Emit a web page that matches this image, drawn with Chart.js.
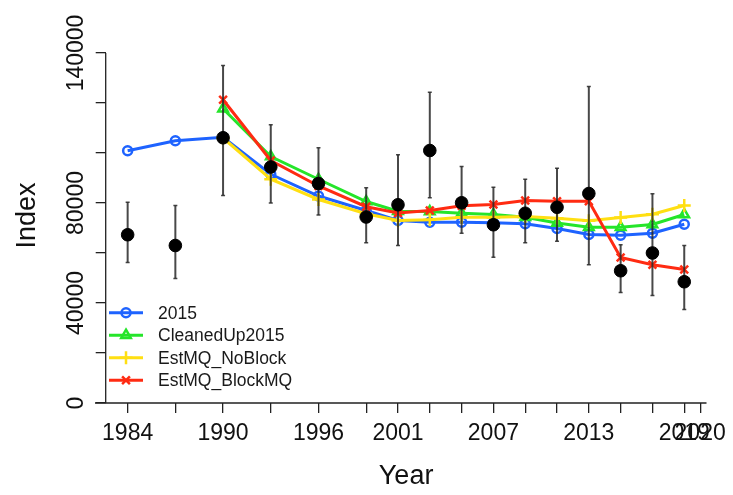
<!DOCTYPE html>
<html>
<head>
<meta charset="utf-8">
<script src="https://cdn.jsdelivr.net/npm/chart.js@4/dist/chart.umd.min.js"></script>
<style>
  html, body { margin: 0; padding: 0; background: #ffffff; }
  #wrap { width: 733px; height: 495px; }
</style>
</head>
<body>
<div id="wrap"><canvas id="c" width="733" height="495"></canvas></div>
<script>
// Survey years
const years = [1984, 1987, 1990, 1993, 1996, 1999, 2001, 2003, 2005, 2007, 2009, 2011, 2013, 2015, 2017, 2019];

// Observed index with its interval
const obsIndex = [67300, 63000, 106100, 94400, 87800, 74400, 79300, 101000, 80100, 71300, 75900, 78300, 83800, 52900, 60000, 48500];
const obsLower = [56200, 49800, 83000, 80000, 75200, 64100, 63000, 82100, 67900, 58300, 64100, 64700, 55300, 44200, 43000, 37400];
const obsUpper = [80300, 79000, 135000, 111300, 102100, 86100, 99300, 124300, 94600, 86300, 89500, 93900, 126600, 63300, 83700, 63000];

// Model fits
const run2015 = [100900, 104900, 106300, 91500, 82800, 77000, 73000, 72300, 72300, 72100, 71700, 69800, 67400, 67100, 67900, 71500];
const cleanedUp2015 = [null, null, 117700, 98600, 89500, 80600, 76700, 76600, 75900, 75400, 74300, 72000, 70300, 70300, 71400, 75400];
const estMQNoBlock = [null, null, 106000, 89500, 81400, 75700, 73000, 73300, 74300, 74300, 74600, 73900, 72900, 74200, 75500, 79000];
const estMQBlockMQ = [null, null, 121300, 97000, 86800, 78500, 76000, 77000, 78900, 79400, 81000, 80700, 80700, 58200, 55300, 53400];

// Axis ticks and the ones that carry labels
const xTickValues = [1984, 1987, 1990, 1993, 1996, 1999, 2001, 2003, 2005, 2007, 2009, 2011, 2013, 2015, 2017, 2019, 2020];
const xTickLabels = [1984, 1990, 1996, 2001, 2007, 2013, 2019, 2020];
const yTickValues = [0, 20000, 40000, 60000, 80000, 100000, 120000, 140000];
const yTickLabels = [0, 40000, 80000, 140000];

const FONT = "'Liberation Sans', Arial, Helvetica, sans-serif";
const AXIS_COLOR = '#222222';

const toPoints = arr => years.map((x, i) => ({ x: x, y: arr[i] }));
const errorSegments = years.flatMap((x, i) => [
  { x: x, y: obsLower[i] },
  { x: x, y: obsUpper[i] },
  { x: x, y: null }
]);

function fitSeries(label, data, color, pointStyle, radius, order) {
  return {
    type: 'line',
    label: label,
    data: toPoints(data),
    borderColor: color,
    backgroundColor: 'rgba(0,0,0,0)',
    borderWidth: 3,
    pointStyle: pointStyle,
    pointRadius: radius,
    pointHoverRadius: radius,
    pointBorderColor: color,
    pointBackgroundColor: 'rgba(0,0,0,0)',
    pointBorderWidth: 2.5,
    tension: 0,
    spanGaps: false,
    order: order,
    isFit: true
  };
}

const datasets = [
  fitSeries('2015', run2015, '#1e63ff', 'circle', 4.5, 5),
  fitSeries('CleanedUp2015', cleanedUp2015, '#25e52a', 'triangle', 5.5, 4),
  fitSeries('EstMQ_NoBlock', estMQNoBlock, '#ffdf12', 'cross', 6.5, 3),
  fitSeries('EstMQ_BlockMQ', estMQBlockMQ, '#ff2b12', 'crossRot', 5.5, 2),
  {
    type: 'line',
    label: 'interval',
    data: errorSegments,
    borderColor: 'rgba(40,40,40,0.85)',
    borderWidth: 2,
    pointStyle: 'line',
    pointRadius: 2,
    pointHoverRadius: 2,
    pointBorderColor: 'rgba(40,40,40,0.85)',
    pointBorderWidth: 1.5,
    spanGaps: false,
    order: 1
  },
  {
    type: 'line',
    label: 'observed',
    data: toPoints(obsIndex),
    showLine: false,
    pointStyle: 'circle',
    pointRadius: 6.3,
    pointHoverRadius: 6.3,
    pointBackgroundColor: '#000000',
    pointBorderColor: '#000000',
    pointBorderWidth: 1,
    order: 0
  }
];

// Axis lines and legend drawn on top of the library's layout
const axisAndLegend = {
  id: 'axisAndLegend',
  beforeDatasetsDraw(chart) {
    const ctx = chart.ctx;
    const area = chart.chartArea;
    const ys = chart.scales.y;
    ctx.save();
    ctx.strokeStyle = AXIS_COLOR;
    ctx.lineWidth = 1.3;
    ctx.beginPath();
    ctx.moveTo(area.left, ys.getPixelForValue(0));
    ctx.lineTo(area.left, ys.getPixelForValue(140000));
    ctx.moveTo(area.left - 10.7, area.bottom);
    ctx.lineTo(area.right, area.bottom);
    ctx.stroke();
    ctx.restore();
  },
  afterDatasetsDraw(chart) {
    const ctx = chart.ctx;
    const fits = chart.data.datasets.filter(d => d.isFit);
    const x0 = 109, x1 = 143, xm = 126, xt = 158;
    const rowY = [312.7, 335.2, 357.8, 380.3];
    ctx.save();
    fits.forEach((d, i) => {
      const y = rowY[i];
      ctx.strokeStyle = d.borderColor;
      ctx.lineWidth = 3;
      ctx.beginPath();
      ctx.moveTo(x0, y);
      ctx.lineTo(x1, y);
      ctx.stroke();
      ctx.fillStyle = 'rgba(0,0,0,0)';
      ctx.lineWidth = 2.5;
      if (Chart.helpers && Chart.helpers.drawPoint) {
        Chart.helpers.drawPoint(ctx, {
          pointStyle: d.pointStyle,
          radius: d.pointRadius,
          borderWidth: 2.5,
          rotation: 0
        }, xm, y);
      }
      ctx.fillStyle = '#1a1a1a';
      ctx.font = '17.5px ' + FONT;
      ctx.textAlign = 'left';
      ctx.textBaseline = 'middle';
      ctx.fillText(d.label, xt, y + 1);
    });
    ctx.restore();
  }
};

new Chart(document.getElementById('c'), {
  type: 'line',
  data: { datasets: datasets },
  options: {
    responsive: false,
    animation: false,
    devicePixelRatio: 1,
    layout: { padding: { left: 0, top: 28, right: 25, bottom: 0 } },
    plugins: {
      legend: { display: false },
      tooltip: { enabled: false },
      title: { display: false }
    },
    scales: {
      x: {
        type: 'linear',
        position: 'bottom',
        min: 1982.62,
        max: 2020.4,
        offset: false,
        border: { display: false },
        grid: {
          display: true,
          drawOnChartArea: false,
          drawTicks: true,
          tickLength: 10,
          color: AXIS_COLOR,
          lineWidth: 1.3
        },
        ticks: {
          autoSkip: false,
          minRotation: 0,
          maxRotation: 0,
          padding: 7,
          color: '#111111',
          font: { family: FONT, size: 23 },
          callback: v => xTickLabels.includes(v) ? String(v) : ''
        },
        afterBuildTicks: s => { s.ticks = xTickValues.map(v => ({ value: v })); },
        afterFit: s => { s.height = 92; },
        title: {
          display: true,
          text: 'Year',
          color: '#111111',
          font: { family: FONT, size: 27 },
          padding: { top: 0, bottom: 2 }
        }
      },
      y: {
        type: 'linear',
        position: 'left',
        min: 0,
        max: 150000,
        border: { display: false },
        grid: {
          display: true,
          drawOnChartArea: false,
          drawTicks: true,
          tickLength: 10,
          color: AXIS_COLOR,
          lineWidth: 1.3
        },
        ticks: {
          autoSkip: false,
          minRotation: 90,
          maxRotation: 90,
          crossAlign: 'center',
          padding: -19.4,
          color: '#111111',
          font: { family: FONT, size: 23 },
          callback: v => yTickLabels.includes(v) ? String(v) : ''
        },
        afterBuildTicks: s => { s.ticks = yTickValues.map(v => ({ value: v })); },
        afterFit: s => { s.width = 105.7; },
        title: {
          display: true,
          text: 'Index',
          color: '#111111',
          font: { family: FONT, size: 27 },
          padding: { top: 11, bottom: 0 }
        }
      }
    }
  },
  plugins: [axisAndLegend]
});
</script>
</body>
</html>
